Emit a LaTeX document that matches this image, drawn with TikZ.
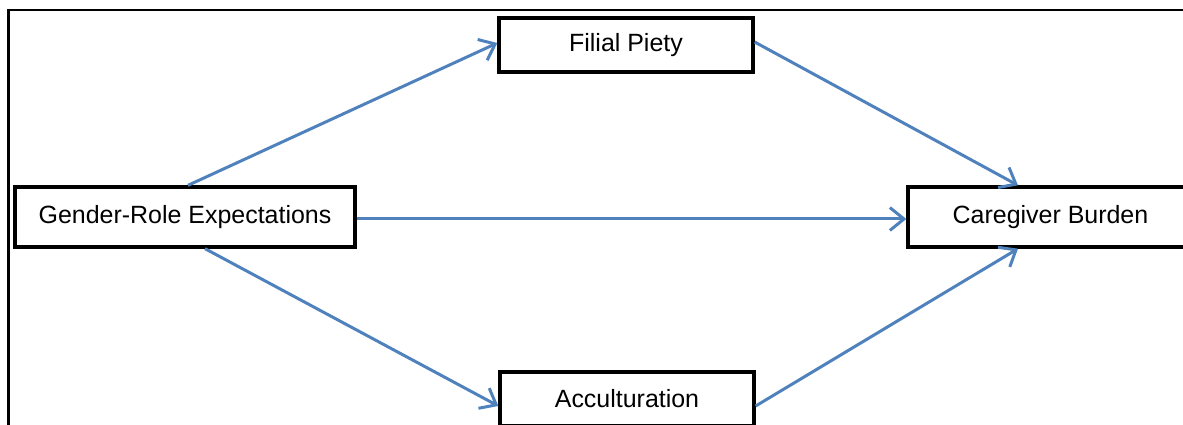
\documentclass[tikz,border=0pt]{standalone}
\usepackage{fontspec}
\setmainfont{Liberation Sans}
\usetikzlibrary{arrows.meta}
\definecolor{arrowblue}{RGB}{79,129,189}
\tikzset{
	box/.style={draw,line width=1.9pt,rectangle,inner sep=0pt,font=\fontsize{14.2}{17}\selectfont},
	link/.style={arrowblue,line width=1.7pt,-{Straight Barb[length=8pt,width=13pt,line width=1.7pt]}}
}

\begin{document}
\begin{tikzpicture}
	\useasboundingbox (0,0) rectangle (23.66,-8.5);
	\clip (0,0) rectangle (23.66,-8.5);
	\draw[line width=1.5pt] (0.17,-9) |- (24,-0.2);
	\node[box,minimum width=6.8cm,minimum height=1.2cm] (gre) at (3.7,-4.34) {Gender-Role Expectations};
	\node[box,minimum width=5.08cm,minimum height=1.08cm] (fp) at (12.52,-0.9) {Filial Piety};
	\node[box,minimum width=5.08cm,minimum height=1.08cm] (acc) at (12.54,-7.98) {Acculturation};
	\node[box,minimum width=5.7cm,minimum height=1.2cm] (cb) at (21.01,-4.34) {Caregiver Burden};
	\draw[link] ([xshift=0.06cm]gre.north) -- ([yshift=0.04cm]fp.west);
	\draw[link] ([yshift=0.06cm]fp.east) -- ([xshift=-0.65cm]cb.north);
	\draw[link] ([yshift=-0.04cm]gre.east) -- ([yshift=-0.04cm]cb.west);
	\draw[link] ([xshift=0.4cm]gre.south) -- ([yshift=-0.14cm]acc.west);
	\draw[link] ([yshift=-0.14cm]acc.east) -- ([xshift=-0.65cm]cb.south);
\end{tikzpicture}
\end{document}
